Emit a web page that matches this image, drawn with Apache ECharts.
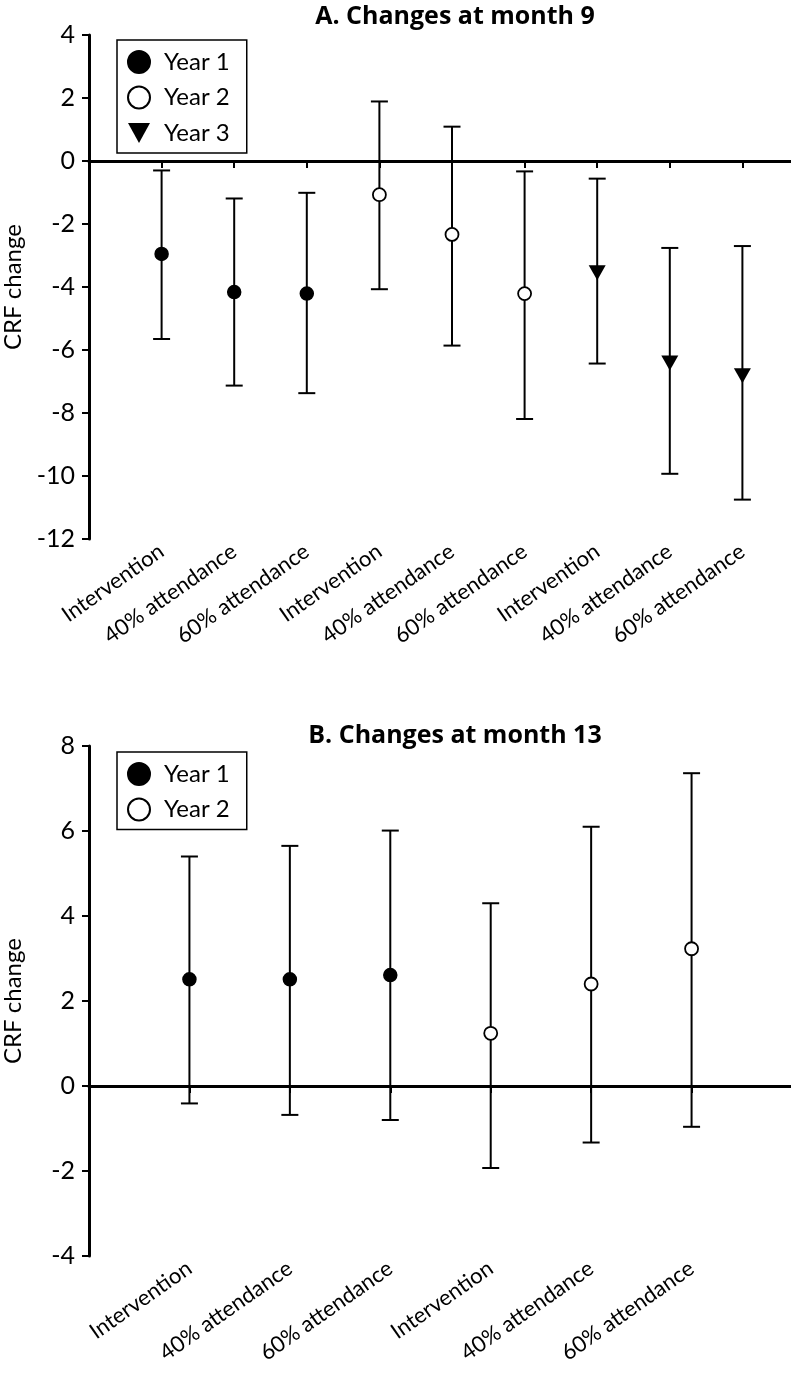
<!DOCTYPE html>
<html>
<head>
<meta charset="utf-8">
<script src="https://cdn.jsdelivr.net/npm/echarts@6/dist/echarts.min.js"></script>
<style>
  html, body { margin: 0; padding: 0; background: #fff; }
  #chart { width: 791px; height: 1373px; }
</style>
</head>
<body>
<div id="chart"></div>
<script>
// categories for each year group
var groups = ['Intervention', '40% attendance', '60% attendance'];
var yearNames = ['Year 1', 'Year 2', 'Year 3'];

// A. month 9: mean, lower and upper CI per year
var m9Mean = [[-2.95, -4.16, -4.21], [-1.07, -2.33, -4.21], [-3.55, -6.41, -6.82]];
var m9Low = [[-5.65, -7.13, -7.37], [-4.07, -5.86, -8.19], [-6.43, -9.93, -10.75]];
var m9High = [[-0.30, -1.19, -1.01], [1.89, 1.09, -0.33], [-0.56, -2.76, -2.70]];

// B. month 13
var m13Mean = [[2.51, 2.51, 2.61], [1.24, 2.40, 3.23]];
var m13Low = [[-0.41, -0.68, -0.80], [-1.93, -1.33, -0.96]];
var m13High = [[5.40, 5.65, 6.01], [4.30, 6.10, 7.36]];

// y ticks
var yTicksA = { min: -12, max: 4, step: 2 };
var yTicksB = { min: -4, max: 8, step: 2 };

var FONT = 'Lato, "Open Sans", sans-serif';
var TITLE_FONT = '"Open Sans", Lato, sans-serif';
var triangleDown = 'path://M0,0L20,0L10,18Z';

var symbolStyles = [
    { symbol: 'circle', size: 13, itemStyle: { color: '#000', borderColor: '#000', borderWidth: 1.5, opacity: 1 } },
    { symbol: 'circle', size: 13, itemStyle: { color: '#fff', borderColor: '#000', borderWidth: 1.8, opacity: 1 } },
    { symbol: triangleDown, size: [17, 15], itemStyle: { color: '#000', borderColor: '#000', borderWidth: 0, opacity: 1 } }
];

function errorBar(params, api) {
    var x = api.value(0);
    var lo = api.coord([x, api.value(1)]);
    var hi = api.coord([x, api.value(2)]);
    var half = 8.5;
    var style = { stroke: '#000', lineWidth: 2 };
    return {
        type: 'group',
        children: [
            { type: 'line', shape: { x1: lo[0], y1: lo[1], x2: hi[0], y2: hi[1] }, style: style },
            { type: 'line', shape: { x1: lo[0] - half, y1: lo[1], x2: lo[0] + half, y2: lo[1] }, style: style },
            { type: 'line', shape: { x1: hi[0] - half, y1: hi[1], x2: hi[0] + half, y2: hi[1] }, style: style }
        ]
    };
}

// tick labels: groups repeated per year
function buildLabels(nYears) {
    var out = [];
    for (var k = 0; k < nYears; k++) {
        groups.forEach(function (g) { out.push(g); });
    }
    return out;
}
var xLabelsA = buildLabels(3);
var xLabelsB = buildLabels(2);

var series = [];
function addPanel(idx, mean, low, high) {
    mean.forEach(function (vals, k) {
        var bars = vals.map(function (v, j) {
            return [k * 3 + j + 1, low[k][j], high[k][j]];
        });
        series.push({
            name: 'ci' + idx + '-' + k,
            type: 'custom',
            xAxisIndex: idx,
            yAxisIndex: idx,
            renderItem: errorBar,
            encode: { x: 0, y: [1, 2] },
            data: bars,
            z: 2,
            silent: true
        });
    });
    mean.forEach(function (vals, k) {
        var st = symbolStyles[k];
        var s = {
            name: yearNames[k],
            type: 'scatter',
            xAxisIndex: idx,
            yAxisIndex: idx,
            symbol: st.symbol,
            symbolSize: st.size,
            itemStyle: st.itemStyle,
            data: vals.map(function (v, j) { return [k * 3 + j + 1, v]; }),
            z: 5
        };
        if (k === 0) {
            s.markLine = {
                silent: true,
                symbol: 'none',
                label: { show: false },
                lineStyle: { color: '#000', width: 1.5, type: 'solid', opacity: 1 },
                data: [{ yAxis: 0 }]
            };
        }
        series.push(s);
    });
}
addPanel(0, m9Mean, m9Low, m9High);
addPanel(1, m13Mean, m13Low, m13High);

function xAxis(idx, labels) {
    var ticks = labels.map(function (l, i) { return i + 1; });
    return {
        type: 'value',
        gridIndex: idx,
        min: 0,
        max: labels.length + 1,
        interval: 1,
        splitLine: { show: false },
        axisLine: { lineStyle: { color: '#000', width: 3 } },
        axisTick: { length: 7, customValues: ticks, lineStyle: { color: '#000', width: 2 } },
        axisLabel: {
            customValues: ticks,
            rotate: 35,
            margin: 10,
            color: '#000',
            fontFamily: FONT,
            fontSize: 22,
            formatter: function (v) { return labels[v - 1] || ''; }
        }
    };
}

function yAxis(idx, t) {
    return {
        type: 'value',
        gridIndex: idx,
        min: t.min,
        max: t.max,
        interval: t.step,
        name: 'CRF change',
        nameLocation: 'middle',
        nameGap: 64,
        nameTextStyle: { color: '#000', fontFamily: FONT, fontSize: 24 },
        splitLine: { show: false },
        axisLine: { show: true, lineStyle: { color: '#000', width: 3 } },
        axisTick: { show: true, length: 7, lineStyle: { color: '#000', width: 2 } },
        axisLabel: { color: '#000', fontFamily: FONT, fontSize: 25, margin: 14 }
    };
}

function legend(top, names) {
    return {
        orient: 'vertical',
        left: 117,
        top: top,
        data: names,
        padding: [10, 17, 8, 10],
        itemGap: 11.5,
        itemWidth: 22,
        itemHeight: 22,
        borderColor: '#000',
        borderWidth: 1.5,
        textStyle: { color: '#000', fontFamily: FONT, fontSize: 24, padding: [0, 0, 0, 9] }
    };
}

var chart = echarts.init(document.getElementById('chart'));
var option = {
    animation: false,
    backgroundColor: '#fff',
    title: [
        { text: 'A. Changes at month 9', left: 450, top: -1, textAlign: 'center',
          textStyle: { fontFamily: TITLE_FONT, fontWeight: 'bold', fontSize: 25, color: '#000' } },
        { text: 'B. Changes at month 13', left: 450, top: 718, textAlign: 'center',
          textStyle: { fontFamily: TITLE_FONT, fontWeight: 'bold', fontSize: 25, color: '#000' } }
    ],
    legend: [legend(40, yearNames), legend(752, yearNames.slice(0, 2))],
    grid: [
        { left: 89, top: 35, width: 726, height: 504, containLabel: false, outerBoundsMode: 'none' },
        { left: 89, top: 746, width: 703, height: 510, containLabel: false, outerBoundsMode: 'none' }
    ],
    xAxis: [xAxis(0, xLabelsA), xAxis(1, xLabelsB)],
    yAxis: [yAxis(0, yTicksA), yAxis(1, yTicksB)],
    series: series
};
chart.setOption(option);
</script>
</body>
</html>
